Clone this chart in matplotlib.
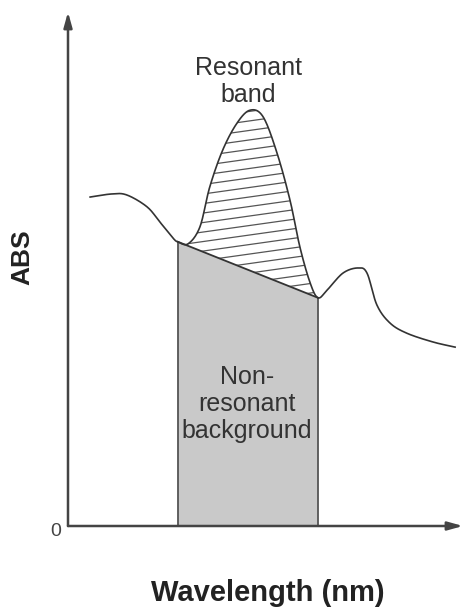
import numpy as np
import matplotlib
matplotlib.use("Agg")
import matplotlib.pyplot as plt
from matplotlib.patches import Polygon

plt.rcParams["font.family"] = ["Liberation Sans", "DejaVu Sans"]

# absorbance spectrum (arbitrary units)
WAVELENGTH = [5.6, 11.1, 14.9, 20.0, 23.3, 26.6, 27.8, 30.4, 33.4, 35.9, 39.2,
              42.8, 46.1, 49.4, 52.9, 56.2, 58.7, 61.3, 63.3, 65.6, 69.6, 73.4,
              75.7, 78.2, 81.5, 85.8, 92.4, 98.0]
ABS = [64.0, 64.6, 64.4, 62.1, 59.1, 56.0, 55.3, 54.9, 58.2, 66.0, 73.2,
       78.4, 80.9, 79.6, 72.6, 63.4, 54.3, 47.3, 44.4, 45.9, 49.2, 50.2,
       49.2, 43.0, 39.5, 37.5, 35.8, 34.8]

# straight-line background under the resonant band
BG_X = [27.8, 63.3]
BG_Y = [55.3, 44.4]

LABEL_BAND = "Resonant\nband"
LABEL_BG = "Non-\nresonant\nbackground"

W, H = 465, 612
INK = "#333333"


def smooth(x, y, n=20):
    # Catmull-Rom spline through the points
    x = np.asarray(x, float)
    y = np.asarray(y, float)
    px = np.concatenate([[2 * x[0] - x[1]], x, [2 * x[-1] - x[-2]]])
    py = np.concatenate([[2 * y[0] - y[1]], y, [2 * y[-1] - y[-2]]])
    t = np.linspace(0, 1, n, endpoint=False)
    xs, ys = [], []
    for i in range(1, len(px) - 2):
        for p, out in ((px, xs), (py, ys)):
            p0, p1, p2, p3 = p[i - 1], p[i], p[i + 1], p[i + 2]
            out.append(0.5 * (2 * p1 + (-p0 + p2) * t
                              + (2 * p0 - 5 * p1 + 4 * p2 - p3) * t ** 2
                              + (-p0 + 3 * p1 - 3 * p2 + p3) * t ** 3))
    xs.append([x[-1]])
    ys.append([y[-1]])
    return np.concatenate(xs), np.concatenate(ys)


fig = plt.figure(figsize=(W / 100, H / 100), dpi=100)
x0, x1, y0, y1 = 68, 463, 526, 12
ax = fig.add_axes([x0 / W, 1 - y0 / H, (x1 - x0) / W, (y0 - y1) / H])
ax.set_xlim(0, 100)
ax.set_ylim(0, 100)
ax.axis("off")

xs, ys = smooth(WAVELENGTH, ABS)

# grey background block
bx = np.linspace(BG_X[0], BG_X[1], 200)
by = np.interp(bx, BG_X, BG_Y)
ax.fill_between(bx, 0, by, facecolor="#c9c9c9", edgecolor="none", zorder=1)
ax.plot([BG_X[0], BG_X[0]], [0, BG_Y[0]], color="#555555", lw=1.3, zorder=2)
ax.plot([BG_X[1], BG_X[1]], [0, BG_Y[1]], color="#555555", lw=1.3, zorder=2)
ax.plot(BG_X, BG_Y, color=INK, lw=1.3, zorder=3)

# resonant band: region between background line and spectrum, ruled with
# slightly rising lines
m = (xs >= BG_X[0]) & (xs <= BG_X[1])
line = np.interp(xs[m], BG_X, BG_Y)
top = np.maximum(ys[m], line)
band = Polygon(np.column_stack([np.r_[xs[m], xs[m][::-1]],
                                np.r_[top, line[::-1]]]),
               closed=True, facecolor="none", edgecolor="none")
ax.add_patch(band)
slope, step = 0.108, 1.85
hx = np.array([BG_X[0] - 1, BG_X[1] + 1])
for c in np.arange(38.0, 86.0, step):
    hl, = ax.plot(hx, c + slope * (hx - BG_X[0]), color="#555555", lw=0.9,
                  zorder=2)
    hl.set_clip_path(band)

ax.plot(xs, ys, color=INK, lw=1.2, zorder=4)

# axes with arrow heads
arrow = dict(arrowstyle="-|>,head_length=0.9,head_width=0.25", color="#444444",
             lw=1.8, shrinkA=0, shrinkB=0)
ax.annotate("", xy=(1, 0), xytext=(0, 0), xycoords="axes fraction",
            arrowprops=arrow, annotation_clip=False)
ax.annotate("", xy=(0, 1), xytext=(0, 0), xycoords="axes fraction",
            arrowprops=arrow, annotation_clip=False)

ax.text(45.6, 86.5, LABEL_BAND, ha="center", va="center", fontsize=18,
        color="#333333", linespacing=1.15)
ax.text(45.3, 23.7, LABEL_BG, ha="center", va="center", fontsize=18,
        color="#333333", linespacing=1.15)

fig.text(56 / W, 1 - 531 / H, "0", ha="center", va="center", fontsize=14,
         color="#444444")
fig.text(22 / W, 1 - 257 / H, "ABS", ha="center", va="center", rotation=90,
         fontsize=19, fontweight="bold", color="#222222")
fig.text(268 / W, 1 - 593 / H, "Wavelength (nm)", ha="center", va="center",
         fontsize=21, fontweight="bold", color="#222222")

fig.savefig("out.png", dpi=100, facecolor="white")
